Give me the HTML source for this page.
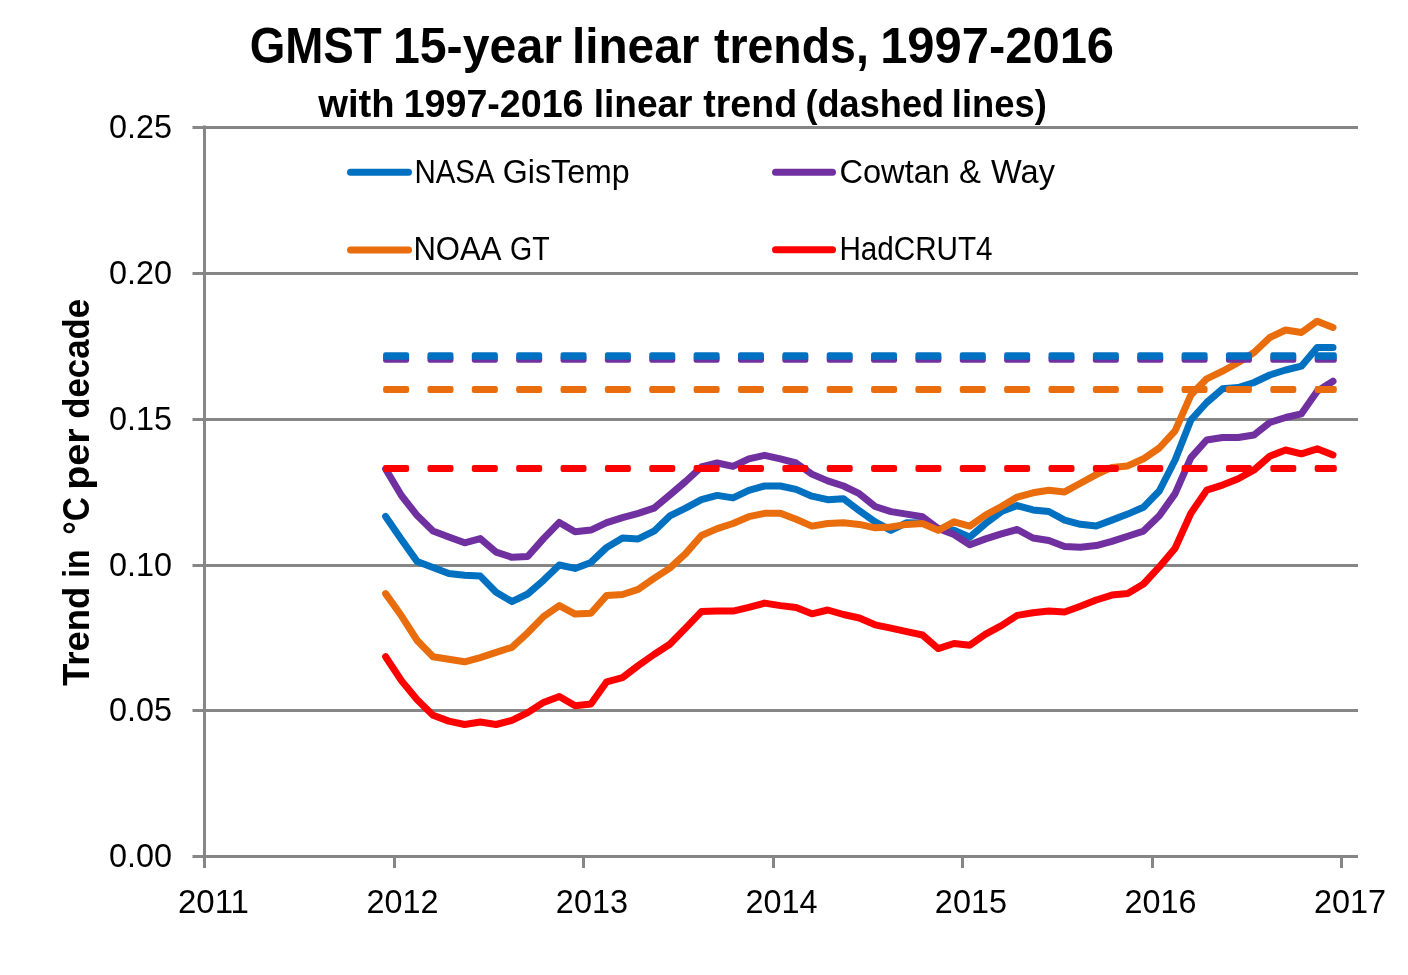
<!DOCTYPE html>
<html><head><meta charset="utf-8"><style>
html,body{margin:0;padding:0;background:#fff;}
svg{display:block;will-change:transform;}
text{font-family:"Liberation Sans",sans-serif;fill:#000;}
</style></head><body>
<svg width="1408" height="975" viewBox="0 0 1408 975">
<rect width="1408" height="975" fill="#fff"/>
<line x1="192.5" y1="127.5" x2="1358" y2="127.5" stroke="#868686" stroke-width="3"/>
<line x1="192.5" y1="273.5" x2="1358" y2="273.5" stroke="#868686" stroke-width="3"/>
<line x1="192.5" y1="419.5" x2="1358" y2="419.5" stroke="#868686" stroke-width="3"/>
<line x1="192.5" y1="565.5" x2="1358" y2="565.5" stroke="#868686" stroke-width="3"/>
<line x1="192.5" y1="710.5" x2="1358" y2="710.5" stroke="#868686" stroke-width="3"/>
<line x1="192.5" y1="856.5" x2="1358" y2="856.5" stroke="#868686" stroke-width="3"/>
<line x1="204.5" y1="125.5" x2="204.5" y2="868" stroke="#868686" stroke-width="3"/>
<line x1="204.5" y1="856" x2="204.5" y2="868" stroke="#868686" stroke-width="3"/>
<line x1="394.5" y1="856" x2="394.5" y2="868" stroke="#868686" stroke-width="3"/>
<line x1="583.5" y1="856" x2="583.5" y2="868" stroke="#868686" stroke-width="3"/>
<line x1="773.5" y1="856" x2="773.5" y2="868" stroke="#868686" stroke-width="3"/>
<line x1="962.5" y1="856" x2="962.5" y2="868" stroke="#868686" stroke-width="3"/>
<line x1="1152.5" y1="856" x2="1152.5" y2="868" stroke="#868686" stroke-width="3"/>
<line x1="1341.5" y1="856" x2="1341.5" y2="868" stroke="#868686" stroke-width="3"/>
<text x="249.72" y="63" font-size="49.4" font-weight="bold" textLength="132.04" lengthAdjust="spacingAndGlyphs">GMST</text>
<text x="392.93" y="63" font-size="49.4" font-weight="bold" textLength="169.10" lengthAdjust="spacingAndGlyphs">15-year</text>
<text x="571.91" y="63" font-size="49.4" font-weight="bold" textLength="127.36" lengthAdjust="spacingAndGlyphs">linear</text>
<text x="713.98" y="63" font-size="49.4" font-weight="bold" textLength="154.86" lengthAdjust="spacingAndGlyphs">trends,</text>
<text x="880.17" y="63" font-size="49.4" font-weight="bold" textLength="233.88" lengthAdjust="spacingAndGlyphs">1997-2016</text>
<text x="318.24" y="117" font-size="39.2" font-weight="bold" textLength="76.35" lengthAdjust="spacingAndGlyphs">with</text>
<text x="403.69" y="117" font-size="39.2" font-weight="bold" textLength="179.85" lengthAdjust="spacingAndGlyphs">1997-2016</text>
<text x="593.67" y="117" font-size="39.2" font-weight="bold" textLength="98.86" lengthAdjust="spacingAndGlyphs">linear</text>
<text x="703.24" y="117" font-size="39.2" font-weight="bold" textLength="93.82" lengthAdjust="spacingAndGlyphs">trend</text>
<text x="805.53" y="117" font-size="39.2" font-weight="bold" textLength="138.54" lengthAdjust="spacingAndGlyphs">(dashed</text>
<text x="951.87" y="117" font-size="39.2" font-weight="bold" textLength="95.00" lengthAdjust="spacingAndGlyphs">lines)</text>
<text x="108.97" y="138.3" font-size="32.5" font-weight="normal" textLength="63.07" lengthAdjust="spacingAndGlyphs">0.25</text>
<text x="108.97" y="284.3" font-size="32.5" font-weight="normal" textLength="63.07" lengthAdjust="spacingAndGlyphs">0.20</text>
<text x="108.97" y="430.3" font-size="32.5" font-weight="normal" textLength="63.07" lengthAdjust="spacingAndGlyphs">0.15</text>
<text x="108.97" y="576.3" font-size="32.5" font-weight="normal" textLength="63.07" lengthAdjust="spacingAndGlyphs">0.10</text>
<text x="108.97" y="721.3" font-size="32.5" font-weight="normal" textLength="63.07" lengthAdjust="spacingAndGlyphs">0.05</text>
<text x="108.97" y="867.3" font-size="32.5" font-weight="normal" textLength="63.07" lengthAdjust="spacingAndGlyphs">0.00</text>
<text x="177.90" y="913" font-size="32.5" font-weight="normal" textLength="71.06" lengthAdjust="spacingAndGlyphs">2011</text>
<text x="366.41" y="913" font-size="32.5" font-weight="normal" textLength="72.06" lengthAdjust="spacingAndGlyphs">2012</text>
<text x="555.86" y="913" font-size="32.5" font-weight="normal" textLength="72.12" lengthAdjust="spacingAndGlyphs">2013</text>
<text x="745.42" y="913" font-size="32.5" font-weight="normal" textLength="72.04" lengthAdjust="spacingAndGlyphs">2014</text>
<text x="934.86" y="913" font-size="32.5" font-weight="normal" textLength="72.12" lengthAdjust="spacingAndGlyphs">2015</text>
<text x="1124.41" y="913" font-size="32.5" font-weight="normal" textLength="72.06" lengthAdjust="spacingAndGlyphs">2016</text>
<text x="1313.90" y="913" font-size="32.5" font-weight="normal" textLength="72.09" lengthAdjust="spacingAndGlyphs">2017</text>
<text x="414.41" y="183" font-size="33.4" font-weight="normal" textLength="80.30" lengthAdjust="spacingAndGlyphs">NASA</text>
<text x="502.86" y="183" font-size="33.4" font-weight="normal" textLength="126.88" lengthAdjust="spacingAndGlyphs">GisTemp</text>
<text x="839.43" y="183" font-size="33.4" font-weight="normal" textLength="110.56" lengthAdjust="spacingAndGlyphs">Cowtan</text>
<text x="958.92" y="183" font-size="33.4" font-weight="normal" textLength="21.93" lengthAdjust="spacingAndGlyphs">&amp;</text>
<text x="991.00" y="183" font-size="33.4" font-weight="normal" textLength="63.91" lengthAdjust="spacingAndGlyphs">Way</text>
<text x="413.41" y="260" font-size="33.4" font-weight="normal" textLength="88.11" lengthAdjust="spacingAndGlyphs">NOAA</text>
<text x="509.98" y="260" font-size="33.4" font-weight="normal" textLength="39.69" lengthAdjust="spacingAndGlyphs">GT</text>
<text x="839.45" y="260" font-size="33.4" font-weight="normal" textLength="153.17" lengthAdjust="spacingAndGlyphs">HadCRUT4</text>
<text transform="translate(88.8,0) rotate(-90)" x="-686.00" y="0" font-size="37.8" font-weight="bold" textLength="99.35" lengthAdjust="spacingAndGlyphs">Trend</text>
<text transform="translate(88.8,0) rotate(-90)" x="-577.75" y="0" font-size="37.8" font-weight="bold" textLength="28.18" lengthAdjust="spacingAndGlyphs">in</text>
<text transform="translate(88.8,0) rotate(-90)" x="-534.81" y="0" font-size="37.8" font-weight="bold" textLength="37.76" lengthAdjust="spacingAndGlyphs">°C</text>
<text transform="translate(88.8,0) rotate(-90)" x="-489.83" y="0" font-size="37.8" font-weight="bold" textLength="61.54" lengthAdjust="spacingAndGlyphs">per</text>
<text transform="translate(88.8,0) rotate(-90)" x="-418.72" y="0" font-size="37.8" font-weight="bold" textLength="119.86" lengthAdjust="spacingAndGlyphs">decade</text>
<polyline points="385.6,516.4 401.4,539.4 417.2,561.6 433.0,567.6 448.8,573.5 464.6,575.2 480.3,576.1 496.1,592.3 511.9,601.6 527.7,594.0 543.5,580.3 559.3,565.0 575.1,568.4 590.9,562.4 606.7,547.4 622.5,538.0 638.2,538.9 654.0,531.2 669.8,515.9 685.6,508.2 701.4,499.7 717.2,495.4 733.0,497.9 748.8,490.3 764.6,486.0 780.4,486.0 796.1,489.4 811.9,496.2 827.7,499.7 843.5,498.8 859.3,510.7 875.1,521.8 890.9,530.3 906.7,522.7 922.5,523.0 938.2,528.6 954.0,530.3 969.8,537.2 985.6,523.5 1001.4,511.6 1017.2,505.6 1033.0,509.9 1048.8,511.5 1064.6,520.1 1080.4,524.3 1096.2,526.0 1111.9,520.1 1127.7,514.1 1143.5,507.3 1159.3,491.0 1175.1,460.0 1190.9,420.0 1206.7,402.5 1222.5,388.8 1238.3,387.5 1254.0,382.5 1269.8,375.0 1285.6,370.0 1301.4,366.2 1317.2,347.5 1333.0,347.5" fill="none" stroke="#0070C0" stroke-width="7" stroke-linejoin="round" stroke-linecap="round"/>
<polyline points="385.6,469.0 401.4,495.5 417.2,515.6 433.0,530.9 448.8,536.9 464.6,542.8 480.3,538.6 496.1,552.2 511.9,557.3 527.7,556.5 543.5,538.6 559.3,522.4 575.1,531.8 590.9,530.1 606.7,522.7 622.5,517.6 638.2,513.3 654.0,508.2 669.8,495.0 685.6,481.5 701.4,467.0 717.2,463.0 733.0,466.4 748.8,458.8 764.6,455.3 780.4,458.8 796.1,463.0 811.9,474.1 827.7,480.9 843.5,486.0 859.3,493.7 875.1,506.5 890.9,511.6 906.7,514.1 922.5,516.7 938.2,528.6 954.0,534.6 969.8,544.8 985.6,538.9 1001.4,533.8 1017.2,529.5 1033.0,538.0 1048.8,540.5 1064.6,546.5 1080.4,547.3 1096.2,545.6 1111.9,541.4 1127.7,536.2 1143.5,531.1 1159.3,515.8 1175.1,493.6 1190.9,457.7 1206.7,440.0 1222.5,437.5 1238.3,437.5 1254.0,435.0 1269.8,422.5 1285.6,417.5 1301.4,413.8 1317.2,391.2 1333.0,381.2" fill="none" stroke="#7030A0" stroke-width="7" stroke-linejoin="round" stroke-linecap="round"/>
<polyline points="385.6,593.6 401.4,615.8 417.2,640.5 433.0,656.7 448.8,659.3 464.6,661.8 480.3,657.6 496.1,652.4 511.9,647.3 527.7,632.8 543.5,616.6 559.3,605.6 575.1,614.1 590.9,613.2 606.7,595.4 622.5,594.5 638.2,589.4 654.0,578.4 669.8,568.1 685.6,553.6 701.4,535.5 717.2,528.6 733.0,523.5 748.8,516.7 764.6,513.3 780.4,513.3 796.1,519.3 811.9,526.1 827.7,523.5 843.5,522.7 859.3,524.4 875.1,527.8 890.9,526.9 906.7,524.4 922.5,523.5 938.2,530.3 954.0,521.8 969.8,526.1 985.6,515.0 1001.4,506.5 1017.2,497.1 1033.0,492.8 1048.8,490.3 1064.6,491.9 1080.4,483.2 1096.2,474.6 1111.9,467.4 1127.7,465.9 1143.5,458.8 1159.3,448.0 1175.1,430.8 1190.9,395.0 1206.7,378.8 1222.5,371.2 1238.3,362.5 1254.0,352.5 1269.8,337.5 1285.6,330.0 1301.4,332.5 1317.2,321.2 1333.0,327.5" fill="none" stroke="#E96D0C" stroke-width="7" stroke-linejoin="round" stroke-linecap="round"/>
<polyline points="385.6,656.7 401.4,680.6 417.2,699.8 433.0,715.2 448.8,721.1 464.6,724.5 480.3,722.0 496.1,724.5 511.9,720.3 527.7,712.6 543.5,702.4 559.3,696.4 575.1,705.8 590.9,704.1 606.7,681.8 622.5,677.6 638.2,665.6 654.0,654.5 669.8,644.3 685.6,628.1 701.4,611.6 717.2,610.9 733.0,611.1 748.8,607.3 764.6,603.1 780.4,605.6 796.1,607.5 811.9,613.8 827.7,610.0 843.5,614.5 859.3,618.0 875.1,624.8 890.9,628.2 906.7,631.6 922.5,635.0 938.2,648.6 954.0,643.5 969.8,645.2 985.6,634.1 1001.4,625.6 1017.2,615.4 1033.0,612.8 1048.8,611.1 1064.6,612.0 1080.4,606.2 1096.2,600.0 1111.9,595.1 1127.7,593.4 1143.5,584.0 1159.3,566.9 1175.1,548.2 1190.9,513.2 1206.7,490.2 1222.5,485.1 1238.3,478.8 1254.0,470.0 1269.8,456.2 1285.6,450.0 1301.4,453.8 1317.2,448.8 1333.0,455.0" fill="none" stroke="#FF0000" stroke-width="7" stroke-linejoin="round" stroke-linecap="round"/>
<rect x="383.10" y="355.80" width="26.00" height="7" rx="2.2" fill="#7030A0"/>
<rect x="427.46" y="355.80" width="26.00" height="7" rx="2.2" fill="#7030A0"/>
<rect x="471.82" y="355.80" width="26.00" height="7" rx="2.2" fill="#7030A0"/>
<rect x="516.18" y="355.80" width="26.00" height="7" rx="2.2" fill="#7030A0"/>
<rect x="560.54" y="355.80" width="26.00" height="7" rx="2.2" fill="#7030A0"/>
<rect x="604.90" y="355.80" width="26.00" height="7" rx="2.2" fill="#7030A0"/>
<rect x="649.26" y="355.80" width="26.00" height="7" rx="2.2" fill="#7030A0"/>
<rect x="693.62" y="355.80" width="26.00" height="7" rx="2.2" fill="#7030A0"/>
<rect x="737.98" y="355.80" width="26.00" height="7" rx="2.2" fill="#7030A0"/>
<rect x="782.34" y="355.80" width="26.00" height="7" rx="2.2" fill="#7030A0"/>
<rect x="826.70" y="355.80" width="26.00" height="7" rx="2.2" fill="#7030A0"/>
<rect x="871.06" y="355.80" width="26.00" height="7" rx="2.2" fill="#7030A0"/>
<rect x="915.42" y="355.80" width="26.00" height="7" rx="2.2" fill="#7030A0"/>
<rect x="959.78" y="355.80" width="26.00" height="7" rx="2.2" fill="#7030A0"/>
<rect x="1004.14" y="355.80" width="26.00" height="7" rx="2.2" fill="#7030A0"/>
<rect x="1048.50" y="355.80" width="26.00" height="7" rx="2.2" fill="#7030A0"/>
<rect x="1092.86" y="355.80" width="26.00" height="7" rx="2.2" fill="#7030A0"/>
<rect x="1137.22" y="355.80" width="26.00" height="7" rx="2.2" fill="#7030A0"/>
<rect x="1181.58" y="355.80" width="26.00" height="7" rx="2.2" fill="#7030A0"/>
<rect x="1225.94" y="355.80" width="26.00" height="7" rx="2.2" fill="#7030A0"/>
<rect x="1270.30" y="355.80" width="26.00" height="7" rx="2.2" fill="#7030A0"/>
<rect x="1314.66" y="355.80" width="22.14" height="7" rx="2.2" fill="#7030A0"/>
<rect x="383.10" y="352.20" width="26.00" height="7.6" rx="2.2" fill="#0070C0"/>
<rect x="427.46" y="352.20" width="26.00" height="7.6" rx="2.2" fill="#0070C0"/>
<rect x="471.82" y="352.20" width="26.00" height="7.6" rx="2.2" fill="#0070C0"/>
<rect x="516.18" y="352.20" width="26.00" height="7.6" rx="2.2" fill="#0070C0"/>
<rect x="560.54" y="352.20" width="26.00" height="7.6" rx="2.2" fill="#0070C0"/>
<rect x="604.90" y="352.20" width="26.00" height="7.6" rx="2.2" fill="#0070C0"/>
<rect x="649.26" y="352.20" width="26.00" height="7.6" rx="2.2" fill="#0070C0"/>
<rect x="693.62" y="352.20" width="26.00" height="7.6" rx="2.2" fill="#0070C0"/>
<rect x="737.98" y="352.20" width="26.00" height="7.6" rx="2.2" fill="#0070C0"/>
<rect x="782.34" y="352.20" width="26.00" height="7.6" rx="2.2" fill="#0070C0"/>
<rect x="826.70" y="352.20" width="26.00" height="7.6" rx="2.2" fill="#0070C0"/>
<rect x="871.06" y="352.20" width="26.00" height="7.6" rx="2.2" fill="#0070C0"/>
<rect x="915.42" y="352.20" width="26.00" height="7.6" rx="2.2" fill="#0070C0"/>
<rect x="959.78" y="352.20" width="26.00" height="7.6" rx="2.2" fill="#0070C0"/>
<rect x="1004.14" y="352.20" width="26.00" height="7.6" rx="2.2" fill="#0070C0"/>
<rect x="1048.50" y="352.20" width="26.00" height="7.6" rx="2.2" fill="#0070C0"/>
<rect x="1092.86" y="352.20" width="26.00" height="7.6" rx="2.2" fill="#0070C0"/>
<rect x="1137.22" y="352.20" width="26.00" height="7.6" rx="2.2" fill="#0070C0"/>
<rect x="1181.58" y="352.20" width="26.00" height="7.6" rx="2.2" fill="#0070C0"/>
<rect x="1225.94" y="352.20" width="26.00" height="7.6" rx="2.2" fill="#0070C0"/>
<rect x="1270.30" y="352.20" width="26.00" height="7.6" rx="2.2" fill="#0070C0"/>
<rect x="1314.66" y="352.20" width="22.14" height="7.6" rx="2.2" fill="#0070C0"/>
<rect x="383.10" y="386.00" width="26.00" height="7" rx="2.2" fill="#E96D0C"/>
<rect x="427.46" y="386.00" width="26.00" height="7" rx="2.2" fill="#E96D0C"/>
<rect x="471.82" y="386.00" width="26.00" height="7" rx="2.2" fill="#E96D0C"/>
<rect x="516.18" y="386.00" width="26.00" height="7" rx="2.2" fill="#E96D0C"/>
<rect x="560.54" y="386.00" width="26.00" height="7" rx="2.2" fill="#E96D0C"/>
<rect x="604.90" y="386.00" width="26.00" height="7" rx="2.2" fill="#E96D0C"/>
<rect x="649.26" y="386.00" width="26.00" height="7" rx="2.2" fill="#E96D0C"/>
<rect x="693.62" y="386.00" width="26.00" height="7" rx="2.2" fill="#E96D0C"/>
<rect x="737.98" y="386.00" width="26.00" height="7" rx="2.2" fill="#E96D0C"/>
<rect x="782.34" y="386.00" width="26.00" height="7" rx="2.2" fill="#E96D0C"/>
<rect x="826.70" y="386.00" width="26.00" height="7" rx="2.2" fill="#E96D0C"/>
<rect x="871.06" y="386.00" width="26.00" height="7" rx="2.2" fill="#E96D0C"/>
<rect x="915.42" y="386.00" width="26.00" height="7" rx="2.2" fill="#E96D0C"/>
<rect x="959.78" y="386.00" width="26.00" height="7" rx="2.2" fill="#E96D0C"/>
<rect x="1004.14" y="386.00" width="26.00" height="7" rx="2.2" fill="#E96D0C"/>
<rect x="1048.50" y="386.00" width="26.00" height="7" rx="2.2" fill="#E96D0C"/>
<rect x="1092.86" y="386.00" width="26.00" height="7" rx="2.2" fill="#E96D0C"/>
<rect x="1137.22" y="386.00" width="26.00" height="7" rx="2.2" fill="#E96D0C"/>
<rect x="1181.58" y="386.00" width="26.00" height="7" rx="2.2" fill="#E96D0C"/>
<rect x="1225.94" y="386.00" width="26.00" height="7" rx="2.2" fill="#E96D0C"/>
<rect x="1270.30" y="386.00" width="26.00" height="7" rx="2.2" fill="#E96D0C"/>
<rect x="1314.66" y="386.00" width="22.14" height="7" rx="2.2" fill="#E96D0C"/>
<rect x="383.10" y="464.90" width="26.00" height="7" rx="2.2" fill="#FF0000"/>
<rect x="427.46" y="464.90" width="26.00" height="7" rx="2.2" fill="#FF0000"/>
<rect x="471.82" y="464.90" width="26.00" height="7" rx="2.2" fill="#FF0000"/>
<rect x="516.18" y="464.90" width="26.00" height="7" rx="2.2" fill="#FF0000"/>
<rect x="560.54" y="464.90" width="26.00" height="7" rx="2.2" fill="#FF0000"/>
<rect x="604.90" y="464.90" width="26.00" height="7" rx="2.2" fill="#FF0000"/>
<rect x="649.26" y="464.90" width="26.00" height="7" rx="2.2" fill="#FF0000"/>
<rect x="693.62" y="464.90" width="26.00" height="7" rx="2.2" fill="#FF0000"/>
<rect x="737.98" y="464.90" width="26.00" height="7" rx="2.2" fill="#FF0000"/>
<rect x="782.34" y="464.90" width="26.00" height="7" rx="2.2" fill="#FF0000"/>
<rect x="826.70" y="464.90" width="26.00" height="7" rx="2.2" fill="#FF0000"/>
<rect x="871.06" y="464.90" width="26.00" height="7" rx="2.2" fill="#FF0000"/>
<rect x="915.42" y="464.90" width="26.00" height="7" rx="2.2" fill="#FF0000"/>
<rect x="959.78" y="464.90" width="26.00" height="7" rx="2.2" fill="#FF0000"/>
<rect x="1004.14" y="464.90" width="26.00" height="7" rx="2.2" fill="#FF0000"/>
<rect x="1048.50" y="464.90" width="26.00" height="7" rx="2.2" fill="#FF0000"/>
<rect x="1092.86" y="464.90" width="26.00" height="7" rx="2.2" fill="#FF0000"/>
<rect x="1137.22" y="464.90" width="26.00" height="7" rx="2.2" fill="#FF0000"/>
<rect x="1181.58" y="464.90" width="26.00" height="7" rx="2.2" fill="#FF0000"/>
<rect x="1225.94" y="464.90" width="26.00" height="7" rx="2.2" fill="#FF0000"/>
<rect x="1270.30" y="464.90" width="26.00" height="7" rx="2.2" fill="#FF0000"/>
<rect x="1314.66" y="464.90" width="22.14" height="7" rx="2.2" fill="#FF0000"/>
<line x1="350.5" y1="172.3" x2="408.5" y2="172.3" stroke="#0070C0" stroke-width="7" stroke-linecap="round"/>
<line x1="775.5" y1="172.3" x2="832.5" y2="172.3" stroke="#7030A0" stroke-width="7" stroke-linecap="round"/>
<line x1="350.5" y1="250" x2="408.5" y2="250" stroke="#E96D0C" stroke-width="7" stroke-linecap="round"/>
<line x1="775.5" y1="249.7" x2="832.5" y2="249.7" stroke="#FF0000" stroke-width="7" stroke-linecap="round"/>
</svg>
</body></html>
